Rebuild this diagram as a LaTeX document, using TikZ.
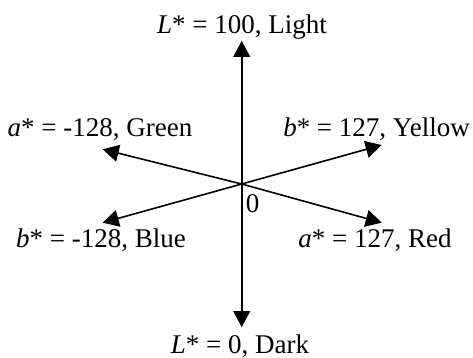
\documentclass[tikz,border=0pt]{standalone}
\usepackage{fontspec}
\setmainfont{Liberation Serif}
\usetikzlibrary{arrows.meta}
\begin{document}
\begin{tikzpicture}[x=1pt,y=-1pt,
  axis/.style={line width=1.6pt,-{Triangle[length=16pt,width=17pt]}},
  lab/.style={anchor=base,inner sep=0pt,font=\fontsize{27}{31}\selectfont}]
\useasboundingbox (0,0) rectangle (473,358);
\coordinate (O) at (241.7,184);
\coordinate (tL) at (241.7,41);
\coordinate (bL) at (241.7,327);
\coordinate (tG) at (102.7,149.3);
\coordinate (tY) at (381.7,145);
\coordinate (tB) at (102.7,222.7);
\coordinate (tR) at (381.7,222.7);
\draw[axis] (O) -- (tL);
\draw[axis] (O) -- (bL);
\draw[axis] (O) -- (tG);
\draw[axis] (O) -- (tY);
\draw[axis] (O) -- (tB);
\draw[axis] (O) -- (tR);
\node[lab] (nL) at (242,33.5) {\textit{L}* = 100, Light};
\node[lab] (nG) at (100,136.7) {\textit{a}* = -128, Green};
\node[lab] (nY) at (376.5,136.7) {\textit{b}* = 127, Yellow};
\node[lab] (nB) at (101,247) {\textit{b}* = -128, Blue};
\node[lab] (nR) at (375,247) {\textit{a}* = 127, Red};
\node[lab] (nD) at (240,353) {\textit{L}* = 0, Dark};
\node[lab] (n0) at (252.5,212.5) {0};
\end{tikzpicture}
\end{document}
